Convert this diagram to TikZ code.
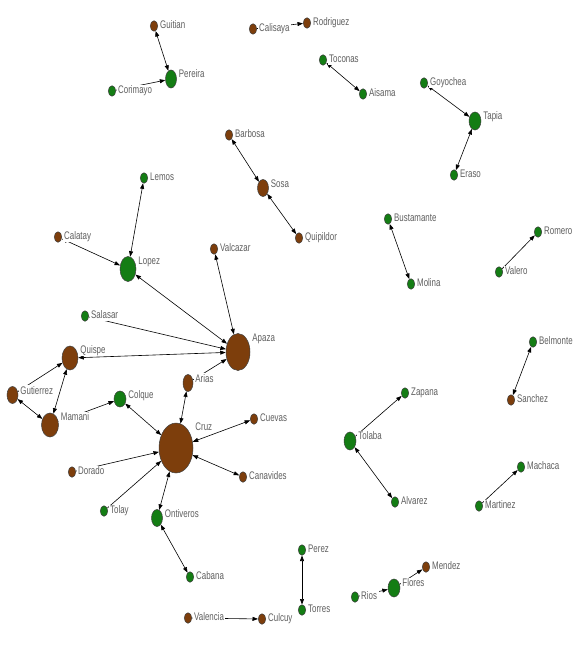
\documentclass[tikz,border=0pt]{standalone}
\usepackage{fontspec}
\newfontfamily\labfont[FakeStretch=0.72]{Liberation Sans}
\usetikzlibrary{shapes.geometric,arrows.meta,calc}
\definecolor{ngreen}{RGB}{20,125,20}
\definecolor{nbrown}{RGB}{125,62,12}
\definecolor{ltext}{RGB}{95,95,95}
\pgfdeclarelayer{edges}
\pgfdeclarelayer{labels}
\pgfsetlayers{edges,labels,main}
\newcommand\lbl[1]{\node[lab] (#1-l) at ($(#1.north -| #1.east)+(0.5,-1)$) {#1};}
\begin{document}
\begin{tikzpicture}[x=1pt,y=-1pt,
  nd/.style={ellipse, draw=black!75, line width=0.5pt, inner sep=0pt},
  gr/.style 2 args={nd, fill=ngreen, minimum width=#1pt, minimum height=#2pt},
  br/.style 2 args={nd, fill=nbrown, minimum width=#1pt, minimum height=#2pt},
  sg/.style={gr={7.5}{10.5}}, sb/.style={br={7.5}{10.5}},
  lab/.style={anchor=north west, fill=white, inner xsep=1.5pt, inner ysep=0.6pt, text height=8pt, text depth=2pt, text=ltext, font=\labfont\fontsize{11}{11}\selectfont},
  ed/.style={draw=black, line width=0.6pt},
  >={Triangle[length=5.5pt,width=4pt]}]
\begin{pgfonlayer}{edges}
\fill[white] (0,0) rectangle (580,658);
\end{pgfonlayer}
\useasboundingbox (0,0) rectangle (580,658);
% nodes
\node[sb] (Guitian) at (154,26) {};
\node[gr={11}{18}] (Pereira) at (171,79) {};
\node[sg] (Corimayo) at (112,91) {};
\node[sb] (Calisaya) at (253,29) {};
\node[sb] (Rodriguez) at (307,23) {};
\node[sg] (Toconas) at (323,60) {};
\node[sg] (Aisama) at (363,94) {};
\node[sg] (Goyochea) at (424,83) {};
\node[gr={12}{18}] (Tapia) at (475,121) {};
\node[sg] (Eraso) at (454,175) {};
\node[sb] (Barbosa) at (229,135) {};
\node[br={11}{17}] (Sosa) at (263,188) {};
\node[sb] (Quipildor) at (299,238) {};
\node[sg] (Lemos) at (144,178) {};
\node[gr={16}{25}] (Lopez) at (128,269) {};
\node[sb] (Calatay) at (58,237) {};
\node[sb] (Valcazar) at (214,249) {};
\node[sg] (Salasar) at (85,316) {};
\node[br={24}{37}] (Apaza) at (238,352) {};
\node[br={16}{24}] (Quispe) at (70,358) {};
\node[br={11}{17}] (Gutierrez) at (12.5,395) {};
\node[br={17}{24}] (Mamani) at (50,425) {};
\node[gr={12}{16}] (Colque) at (120,399) {};
\node[br={10}{17}] (Arias) at (188,383) {};
\node[br={34}{50}] (Cruz) at (176,448) {};
\node[sb] (Cuevas) at (254,419) {};
\node[sb] (Dorado) at (72,472) {};
\node[sb] (Canavides) at (243,477) {};
\node[sg] (Tolay) at (104,511) {};
\node[gr={11}{17}] (Ontiveros) at (157,518) {};
\node[sg] (Cabana) at (190,577) {};
\node[sb] (Valencia) at (188,618) {};
\node[sb] (Culcuy) at (262,619) {};
\node[sg] (Bustamante) at (388,219) {};
\node[sg] (Molina) at (411,284) {};
\node[sg] (Romero) at (538,232) {};
\node[sg] (Valero) at (499,272) {};
\node[sg] (Belmonte) at (533,342) {};
\node[sb] (Sanchez) at (511,400) {};
\node[gr={12}{18}] (Tolaba) at (350,441) {};
\node[sg] (Zapana) at (405,393) {};
\node[sg] (Alvarez) at (395,502) {};
\node[sg] (Machaca) at (521,467) {};
\node[sg] (Martinez) at (479,506) {};
\node[sg] (Perez) at (302,550) {};
\node[sg] (Torres) at (302,610) {};
\node[sg] (Rios) at (355,597) {};
\node[gr={12}{18}] (Flores) at (394,588) {};
\node[sb] (Mendez) at (426,567) {};
% edges
\begin{pgfonlayer}{edges}
\draw[ed,<->] (Guitian) -- (Pereira);
\draw[ed,->] (Corimayo) -- (Pereira);
\draw[ed,->] (Calisaya) -- (Rodriguez);
\draw[ed,<->] (Toconas) -- (Aisama);
\draw[ed,<->] (Goyochea) -- (Tapia);
\draw[ed,<->] (Tapia) -- (Eraso);
\draw[ed,<->] (Barbosa) -- (Sosa);
\draw[ed,<->] (Sosa) -- (Quipildor);
\draw[ed,<->] (Lemos) -- (Lopez);
\draw[ed,<->] (Calatay) -- (Lopez);
\draw[ed,<->] (Lopez) -- (Apaza);
\draw[ed,<->] (Valcazar) -- (Apaza);
\draw[ed,<->] (Salasar) -- (Apaza);
\draw[ed,<->] (Quispe) -- (Apaza);
\draw[ed,->] (Arias) -- (Apaza);
\draw[ed,->] (Gutierrez) -- (Quispe);
\draw[ed,<->] (Quispe) -- (Mamani);
\draw[ed,<->] (Gutierrez) -- (Mamani);
\draw[ed,<->] (Mamani) -- (Colque);
\draw[ed,<->] (Colque) -- (Cruz);
\draw[ed,<->] (Arias) -- (Cruz);
\draw[ed,<->] (Cuevas) -- (Cruz);
\draw[ed,<->] (Canavides) -- (Cruz);
\draw[ed,->] (Dorado) -- (Cruz);
\draw[ed,->] (Tolay) -- (Cruz);
\draw[ed,<->] (Ontiveros) -- (Cruz);
\draw[ed,<->] (Ontiveros) -- (Cabana);
\draw[ed,<->] (Valencia) -- (Culcuy);
\draw[ed,<->] (Bustamante) -- (Molina);
\draw[ed,->] (Valero) -- (Romero);
\draw[ed,<->] (Sanchez) -- (Belmonte);
\draw[ed,->] (Tolaba) -- (Zapana);
\draw[ed,<->] (Tolaba) -- (Alvarez);
\draw[ed,->] (Martinez) -- (Machaca);
\draw[ed,<->] (Perez) -- (Torres);
\draw[ed,->] (Rios) -- (Flores);
\draw[ed,->] (Flores) -- (Mendez);
\end{pgfonlayer}
% labels
\begin{pgfonlayer}{labels}
\foreach \n in {Guitian,Pereira,Corimayo,Calisaya,Rodriguez,Toconas,Aisama,Goyochea,Tapia,Eraso,Barbosa,Sosa,Quipildor,Lemos,Lopez,Calatay,Valcazar,Salasar,Apaza,Quispe,Gutierrez,Mamani,Colque,Arias,Cruz,Cuevas,Dorado,Canavides,Tolay,Ontiveros,Cabana,Valencia,Culcuy,Bustamante,Molina,Romero,Valero,Belmonte,Sanchez,Tolaba,Zapana,Alvarez,Machaca,Martinez,Perez,Torres,Rios,Flores,Mendez}{\lbl{\n}}
\end{pgfonlayer}
\end{tikzpicture}
\end{document}
